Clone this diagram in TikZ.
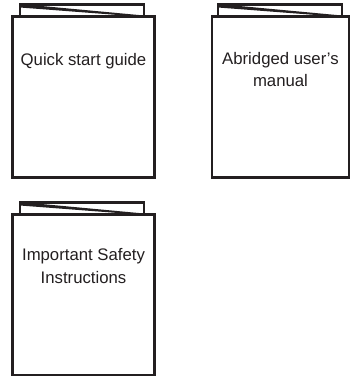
\documentclass[tikz,border=0pt]{standalone}
\usepackage{fontspec}
\setmainfont{Liberation Sans}
\definecolor{ink}{HTML}{231F20}
\begin{document}
\begin{tikzpicture}[x=1bp,y=-1bp,
  page/.style={draw=ink,line width=2.2bp,fill=white},
  lbl/.style={font=\fontsize{16.8}{22.5}\selectfont,text=ink,inner sep=0pt,anchor=base}]
\useasboundingbox (0,0) rectangle (354,379);
% booklet 1
\draw[page] (20,4.5) rectangle (144,16.5);
\fill[ink] (20,4) -- (20,7.5) -- (144,17) -- (144,15.5) -- cycle;
\draw[page] (12.5,16.5) rectangle (154.5,177.5);
\node[lbl] (t1) at (83.5,65) {Quick start guide};
% booklet 2
\draw[page] (218,4.5) rectangle (342,16.5);
\fill[ink] (218,4) -- (218,7.5) -- (342,17) -- (342,15.5) -- cycle;
\draw[page] (212,16.5) rectangle (349,177.5);
\node[lbl] (t2a) at (280.5,64) {Abridged user’s};
\node[lbl] (t2b) at (280.5,86) {manual};
% booklet 3
\draw[page] (20,202.5) rectangle (144,214.5);
\fill[ink] (20,202) -- (20,205.5) -- (144,215) -- (144,213.5) -- cycle;
\draw[page] (12.5,214.5) rectangle (154.5,375);
\node[lbl] (t3a) at (83.5,260) {Important Safety};
\node[lbl] (t3b) at (83.5,283) {Instructions};
\end{tikzpicture}
\end{document}
